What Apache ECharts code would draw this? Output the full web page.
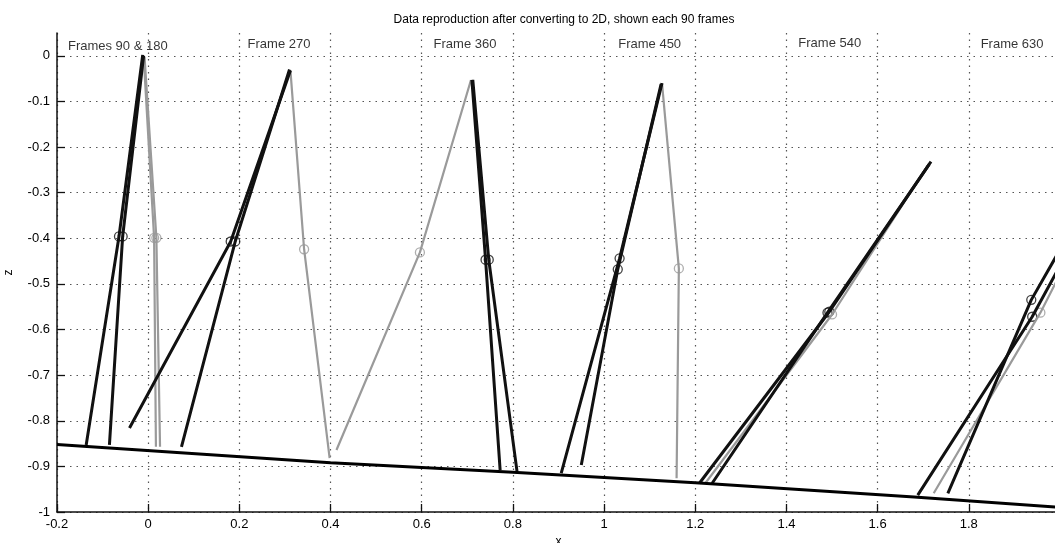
<!DOCTYPE html>
<html>
<head>
<meta charset="utf-8">
<script src="https://cdn.jsdelivr.net/npm/echarts@6/dist/echarts.min.js"></script>
<style>
  html, body { margin: 0; padding: 0; background: #fff; }
  #chart { width: 1055px; height: 543px; }
</style>
</head>
<body>
<div id="chart"></div>
<script>
// ground line (x, z)
var groundLine = [[-0.2, -0.852], [0.4, -0.892], [0.8, -0.913], [1.2, -0.936], [1.68, -0.967], [2.0, -0.99]];

// legs: hip -> knee -> foot
var f90Black1 = [[-0.012, 0.002], [-0.064, -0.396], [-0.136, -0.853]];
var f90Black2 = [[-0.010, 0.000], [-0.056, -0.396], [-0.085, -0.853]];
var f90Gray1 = [[-0.010, 0.000], [0.013, -0.399], [0.017, -0.857]];
var f90Gray2 = [[-0.008, -0.002], [0.018, -0.399], [0.026, -0.857]];

var f270Black1 = [[0.312, -0.032], [0.181, -0.407], [-0.041, -0.816]];
var f270Black2 = [[0.310, -0.030], [0.191, -0.407], [0.073, -0.857]];
var f270Gray = [[0.312, -0.032], [0.342, -0.424], [0.398, -0.882]];

var f360Black1 = [[0.710, -0.053], [0.740, -0.447], [0.772, -0.908]];
var f360Black2 = [[0.712, -0.053], [0.747, -0.447], [0.809, -0.911]];
var f360Gray = [[0.708, -0.053], [0.596, -0.431], [0.413, -0.864]];

var f450Black1 = [[1.127, -0.060], [1.034, -0.444], [0.906, -0.915]];
var f450Black2 = [[1.125, -0.062], [1.030, -0.468], [0.950, -0.897]];
var f450Gray = [[1.127, -0.060], [1.164, -0.466], [1.159, -0.926]];

var f540Black1 = [[1.717, -0.232], [1.494, -0.561], [1.209, -0.937]];
var f540Black2 = [[1.713, -0.238], [1.490, -0.563], [1.237, -0.937]];
var f540Gray = [[1.710, -0.240], [1.500, -0.567], [1.222, -0.937]];

var f630Black1 = [[2.100, -0.250], [1.937, -0.535], [1.754, -0.959]];
var f630Black2 = [[2.110, -0.258], [1.939, -0.572], [1.688, -0.963]];
var f630Gray = [[2.100, -0.284], [1.957, -0.563], [1.723, -0.959]];

// frame captions (left edge x, z, text)
var frameLabels = [
    [-0.176, 0.020, 'Frames 90 & 180'],
    [0.218, 0.024, 'Frame 270'],
    [0.626, 0.024, 'Frame 360'],
    [1.031, 0.026, 'Frame 450'],
    [1.426, 0.027, 'Frame 540'],
    [1.826, 0.026, 'Frame 630']
];

var blackLegs = [f90Black1, f90Black2, f270Black1, f270Black2, f360Black1, f360Black2,
    f450Black1, f450Black2, f540Black1, f540Black2, f630Black1, f630Black2];
var grayLegs = [f90Gray1, f90Gray2, f270Gray, f360Gray, f450Gray, f540Gray, f630Gray];

var FONT = 'Liberation Sans, Arial, sans-serif';
var chart = echarts.init(document.getElementById('chart'));

var series = [];
grayLegs.forEach(function(leg) {
    series.push({
        type: 'line', data: leg, symbol: 'none', silent: true,
        lineStyle: { color: '#9a9a9a', width: 2.2 }
    });
});
blackLegs.forEach(function(leg) {
    series.push({
        type: 'line', data: leg, symbol: 'none', silent: true,
        lineStyle: { color: '#111', width: 3 }
    });
});
series.push({
    type: 'line', data: groundLine, symbol: 'none', silent: true,
    lineStyle: { color: '#000', width: 3 }
});
// knee markers
series.push({
    type: 'scatter', symbol: 'circle', symbolSize: 9, silent: true,
    data: grayLegs.map(function(l) { return l[1]; }),
    itemStyle: { color: 'rgba(0,0,0,0)', borderColor: '#9a9a9a', borderWidth: 1.3 }
});
series.push({
    type: 'scatter', symbol: 'circle', symbolSize: 9, silent: true,
    data: blackLegs.map(function(l) { return l[1]; }),
    itemStyle: { color: 'rgba(0,0,0,0)', borderColor: '#111', borderWidth: 1.3 }
});
series.push({
    type: 'scatter', symbolSize: 0, silent: true,
    data: frameLabels,
    label: {
        show: true, position: 'right', distance: 0,
        formatter: function(p) { return p.data[2]; },
        fontFamily: FONT, fontSize: 13, color: '#000'
    }
});

chart.setOption({
    animation: false,
    backgroundColor: '#fff',
    title: {
        text: 'Data reproduction after converting to 2D, shown each 90 frames',
        left: 559, top: 9, textAlign: 'center',
        textStyle: { fontFamily: FONT, fontSize: 12, fontWeight: 'normal', color: '#000' }
    },
    grid: { left: 57, right: -5, top: 33, bottom: 31, containLabel: false, outerBoundsMode: 'none' },
    xAxis: {
        type: 'value', min: -0.2, max: 2, interval: 0.2,
        name: 'x', nameLocation: 'middle', nameGap: 17,
        nameTextStyle: { fontFamily: FONT, fontSize: 12, color: '#000' },
        axisLine: { onZero: false, lineStyle: { color: '#111', width: 1.5 } },
        axisTick: { inside: true, length: 8, lineStyle: { color: '#111', width: 1.3 } },
        axisLabel: { fontFamily: FONT, fontSize: 13, color: '#000', margin: 6 },
        splitLine: { show: true, lineStyle: { type: [1.5, 5], color: '#555', width: 1.2 } }
    },
    yAxis: {
        type: 'value', min: -1, max: 0.05, interval: 0.1,
        name: 'z', nameLocation: 'middle', nameGap: 42, nameRotate: 90,
        nameTextStyle: { fontFamily: FONT, fontSize: 12, color: '#000' },
        axisLine: { onZero: false, lineStyle: { color: '#111', width: 1.5 } },
        axisTick: { inside: true, length: 8, lineStyle: { color: '#111', width: 1.3 } },
        axisLabel: {
            fontFamily: FONT, fontSize: 13, color: '#000', margin: 7, showMaxLabel: false,
            formatter: function(v) { return v > 0.01 ? '' : String(Math.round(v * 10) / 10); }
        },
        splitLine: { show: true, showMaxLine: false, lineStyle: { type: [1.5, 5], color: '#555', width: 1.2 } }
    },
    series: series
});
</script>
</body>
</html>
